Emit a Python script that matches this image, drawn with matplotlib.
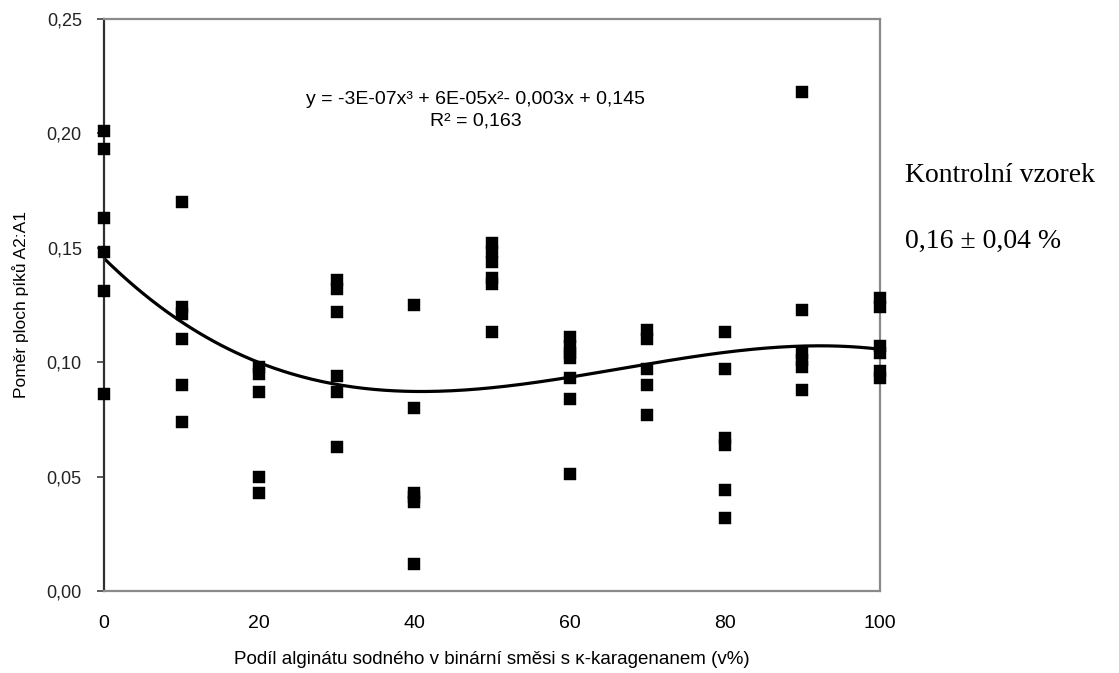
import numpy as np
import matplotlib
matplotlib.use("Agg")
import matplotlib.pyplot as plt
from matplotlib.ticker import FuncFormatter

plt.rcParams['font.family'] = ['Liberation Sans', 'DejaVu Sans']

# ratio A2:A1 for each share of sodium alginate (v%)
shares = [0, 10, 20, 30, 40, 50, 60, 70, 80, 90, 100]
ratios = [
    [0.201, 0.193, 0.163, 0.148, 0.131, 0.086],
    [0.170, 0.124, 0.121, 0.110, 0.090, 0.074],
    [0.098, 0.095, 0.087, 0.050, 0.043],
    [0.136, 0.132, 0.122, 0.094, 0.087, 0.063],
    [0.125, 0.080, 0.043, 0.041, 0.039, 0.012],
    [0.152, 0.148, 0.144, 0.137, 0.134, 0.113],
    [0.111, 0.107, 0.104, 0.102, 0.093, 0.084, 0.051],
    [0.114, 0.110, 0.097, 0.090, 0.077],
    [0.113, 0.097, 0.067, 0.064, 0.044, 0.032],
    [0.218, 0.123, 0.104, 0.101, 0.098, 0.088],
    [0.128, 0.124, 0.107, 0.104, 0.096, 0.093],
]
x_ticks = [0, 20, 40, 60, 80, 100]
y_ticks = [0.00, 0.05, 0.10, 0.15, 0.20, 0.25]

xs = np.concatenate([[s] * len(r) for s, r in zip(shares, ratios)])
ys = np.concatenate(ratios)

# cubic trendline
coef = np.polyfit(xs, ys, 3)
fit = np.poly1d(coef)
xx = np.linspace(0, 100, 300)

fig = plt.figure(figsize=(11.19, 6.73), dpi=100)
ax = fig.add_axes([104 / 1119, 82 / 673, 776 / 1119, 572 / 673])

ax.plot(xx, fit(xx), color='black', lw=2.3, zorder=2)
ax.plot(xs, ys, 's', color='black', ms=8.6, mec='black', mew=0.3,
        clip_on=False, zorder=3)

ax.set_xlim(0, 100)
ax.set_ylim(0, 0.25)
ax.set_xticks(x_ticks)
ax.set_yticks(y_ticks)
ax.yaxis.set_major_formatter(FuncFormatter(lambda v, p: f"{v:.2f}".replace('.', ',')))
ax.tick_params(axis='x', length=0, pad=17, labelsize=14)
ax.tick_params(axis='y', length=5, width=1.2, pad=11, labelsize=13,
               color='#404040', labelcolor='#222222')

for side in ['top', 'right', 'bottom']:
    ax.spines[side].set_color('#8a8a8a')
    ax.spines[side].set_linewidth(1.6)
ax.spines['left'].set_color('#303030')
ax.spines['left'].set_linewidth(1.6)

ax.set_ylabel('Poměr ploch píků A2:A1', fontsize=12.5)
ax.yaxis.set_label_coords(-0.107, 0.5)
ax.yaxis.label.set_verticalalignment('center')

ax.set_xlabel('Podíl alginátu sodného v binární směsi s κ-karagenanem (v%)', fontsize=13.5)
ax.xaxis.set_label_coords(0.5, -0.12)
ax.xaxis.label.set_verticalalignment('center')

# trendline equation, centred above the curve
ax.text(0.479, 0.860, 'y = -3E-07x³ + 6E-05x²- 0,003x + 0,145',
        ha='center', va='center', fontsize=14, transform=ax.transAxes)
ax.text(0.479, 0.822, 'R² = 0,163', ha='center', va='center', fontsize=14,
        transform=ax.transAxes)

fig.text(905 / 1119, 1 - 175 / 673, 'Kontrolní vzorek', family='Liberation Serif',
         fontsize=20, ha='left', va='center')
fig.text(905 / 1119, 1 - 241 / 673, '0,16 ± 0,04 %', family='Liberation Serif',
         fontsize=20, ha='left', va='center')

fig.savefig('out.png', dpi=100)
